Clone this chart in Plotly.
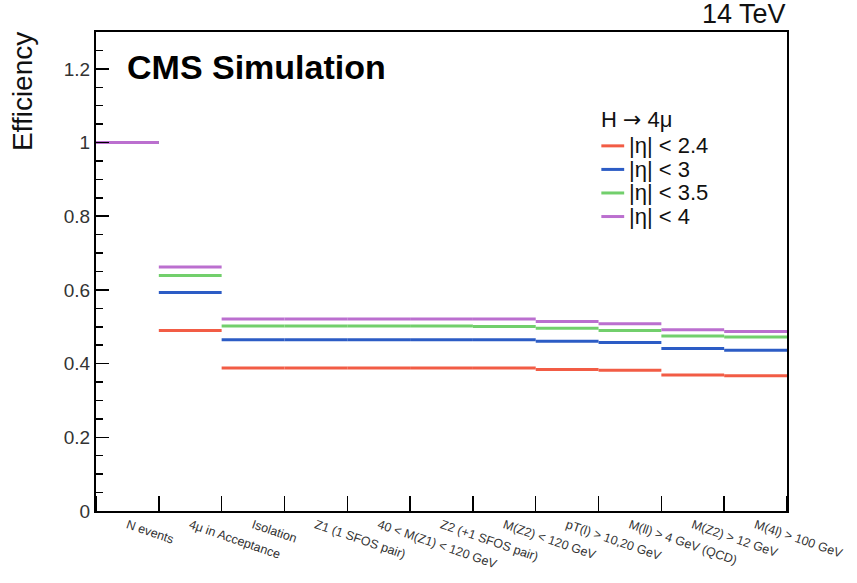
import plotly.graph_objects as go

categories = ["N events", "4μ in Acceptance", "Isolation", "Z1 (1 SFOS pair)",
              "40 < M(Z1) < 120 GeV", "Z2 (+1 SFOS pair)", "M(Z2) < 120 GeV",
              "pT(l) > 10,20 GeV", "M(ll) > 4 GeV (QCD)", "M(Z2) > 12 GeV",
              "M(4l) > 100 GeV"]

series_names = ["|η| < 2.4", "|η| < 3", "|η| < 3.5", "|η| < 4"]
eff_eta24 = [1.0, 0.490, 0.388, 0.388, 0.388, 0.388, 0.388, 0.384, 0.382, 0.369, 0.367]
eff_eta3 = [1.0, 0.593, 0.465, 0.465, 0.465, 0.465, 0.465, 0.461, 0.457, 0.441, 0.436]
eff_eta35 = [1.0, 0.639, 0.502, 0.502, 0.502, 0.502, 0.501, 0.496, 0.490, 0.475, 0.472]
eff_eta4 = [1.0, 0.662, 0.521, 0.521, 0.521, 0.521, 0.521, 0.514, 0.508, 0.492, 0.487]
series_values = [eff_eta24, eff_eta3, eff_eta35, eff_eta4]
colors = ["#f25c45", "#2c5cc5", "#72cf6c", "#bb6fcf"]

fig = go.Figure()
for name, vals, col in zip(series_names, series_values, colors):
    xs, ys = [], []
    for i, v in enumerate(vals):
        xs += [i, i + 1, None]
        ys += [v, v, None]
    fig.add_trace(go.Scatter(x=xs, y=ys, mode="lines", name=name,
                             line=dict(color=col, width=3), showlegend=False,
                             hoverinfo="skip"))

# helpers: reference pixel -> paper coords (plot area 96..792 x, 32..520 y)
def px(x):
    return (x - 96) / 696

def py(y):
    return (520 - y) / 488

font = "Liberation Sans, Arial, Helvetica, sans-serif"
ann = []
shapes = []
ann.append(dict(text="H <span style='font-family:DejaVu Sans'>→</span> 4μ",
                xref="paper", yref="paper",
                x=px(603), y=py(121), xanchor="left", yanchor="middle",
                showarrow=False, font=dict(size=22, color="#111", family=font)))
row_y = [148, 172, 196, 220]
for name, col, yy in zip(series_names, colors, row_y):
    shapes.append(dict(type="line", xref="paper", yref="paper",
                       x0=px(605), x1=px(628), y0=py(yy), y1=py(yy),
                       line=dict(color=col, width=3)))
    ann.append(dict(text=name, xref="paper", yref="paper",
                    x=px(631), y=py(yy), xanchor="left", yanchor="middle",
                    showarrow=False, font=dict(size=22, color="#111", family=font)))

ann.append(dict(text="<b>CMS Simulation</b>", xref="paper", yref="paper",
                x=px(125), y=py(68), xanchor="left", yanchor="middle",
                showarrow=False, font=dict(size=34, color="#000", family=font)))
ann.append(dict(text="14 TeV", xref="paper", yref="paper",
                x=px(793), y=py(14), xanchor="right", yanchor="middle",
                showarrow=False, font=dict(size=27, color="#111", family=font)))
ann.append(dict(text="Efficiency", xref="paper", yref="paper",
                x=px(22), y=py(30), xanchor="center", yanchor="top",
                textangle=-90, showarrow=False,
                font=dict(size=28, color="#111", family=font)))

fig.update_layout(
    width=857, height=583,
    margin=dict(l=96, r=65, t=32, b=63),
    plot_bgcolor="white", paper_bgcolor="white",
    font=dict(family=font, color="#222"),
    annotations=ann, shapes=shapes,
    hovermode=False,
    xaxis=dict(range=[0, 11], tickvals=[i + 0.5 for i in range(len(categories))],
               ticktext=categories, ticks="", tickangle=19,
               tickfont=dict(size=12.5, color="#333"),
               showgrid=False, zeroline=False,
               showline=True, linecolor="black", linewidth=2, mirror=True,
               minor=dict(ticks="inside", tick0=0, dtick=1, ticklen=15,
                          tickwidth=1.5, tickcolor="black", showgrid=False)),
    yaxis=dict(range=[0, 1.3], dtick=0.2, tick0=0, ticks="inside", ticklen=13,
               tickwidth=1.5, tickcolor="black",
               tickfont=dict(size=19, color="#333"),
               showgrid=False, zeroline=False,
               showline=True, linecolor="black", linewidth=2, mirror=True,
               minor=dict(ticks="inside", dtick=0.05, ticklen=7, tickwidth=1.5,
                          tickcolor="black", showgrid=False)),
)

fig.write_html("out.html", config={"displayModeBar": False, "staticPlot": True},
               post_script="document.body.style.margin='0';document.body.style.overflow='hidden';")
